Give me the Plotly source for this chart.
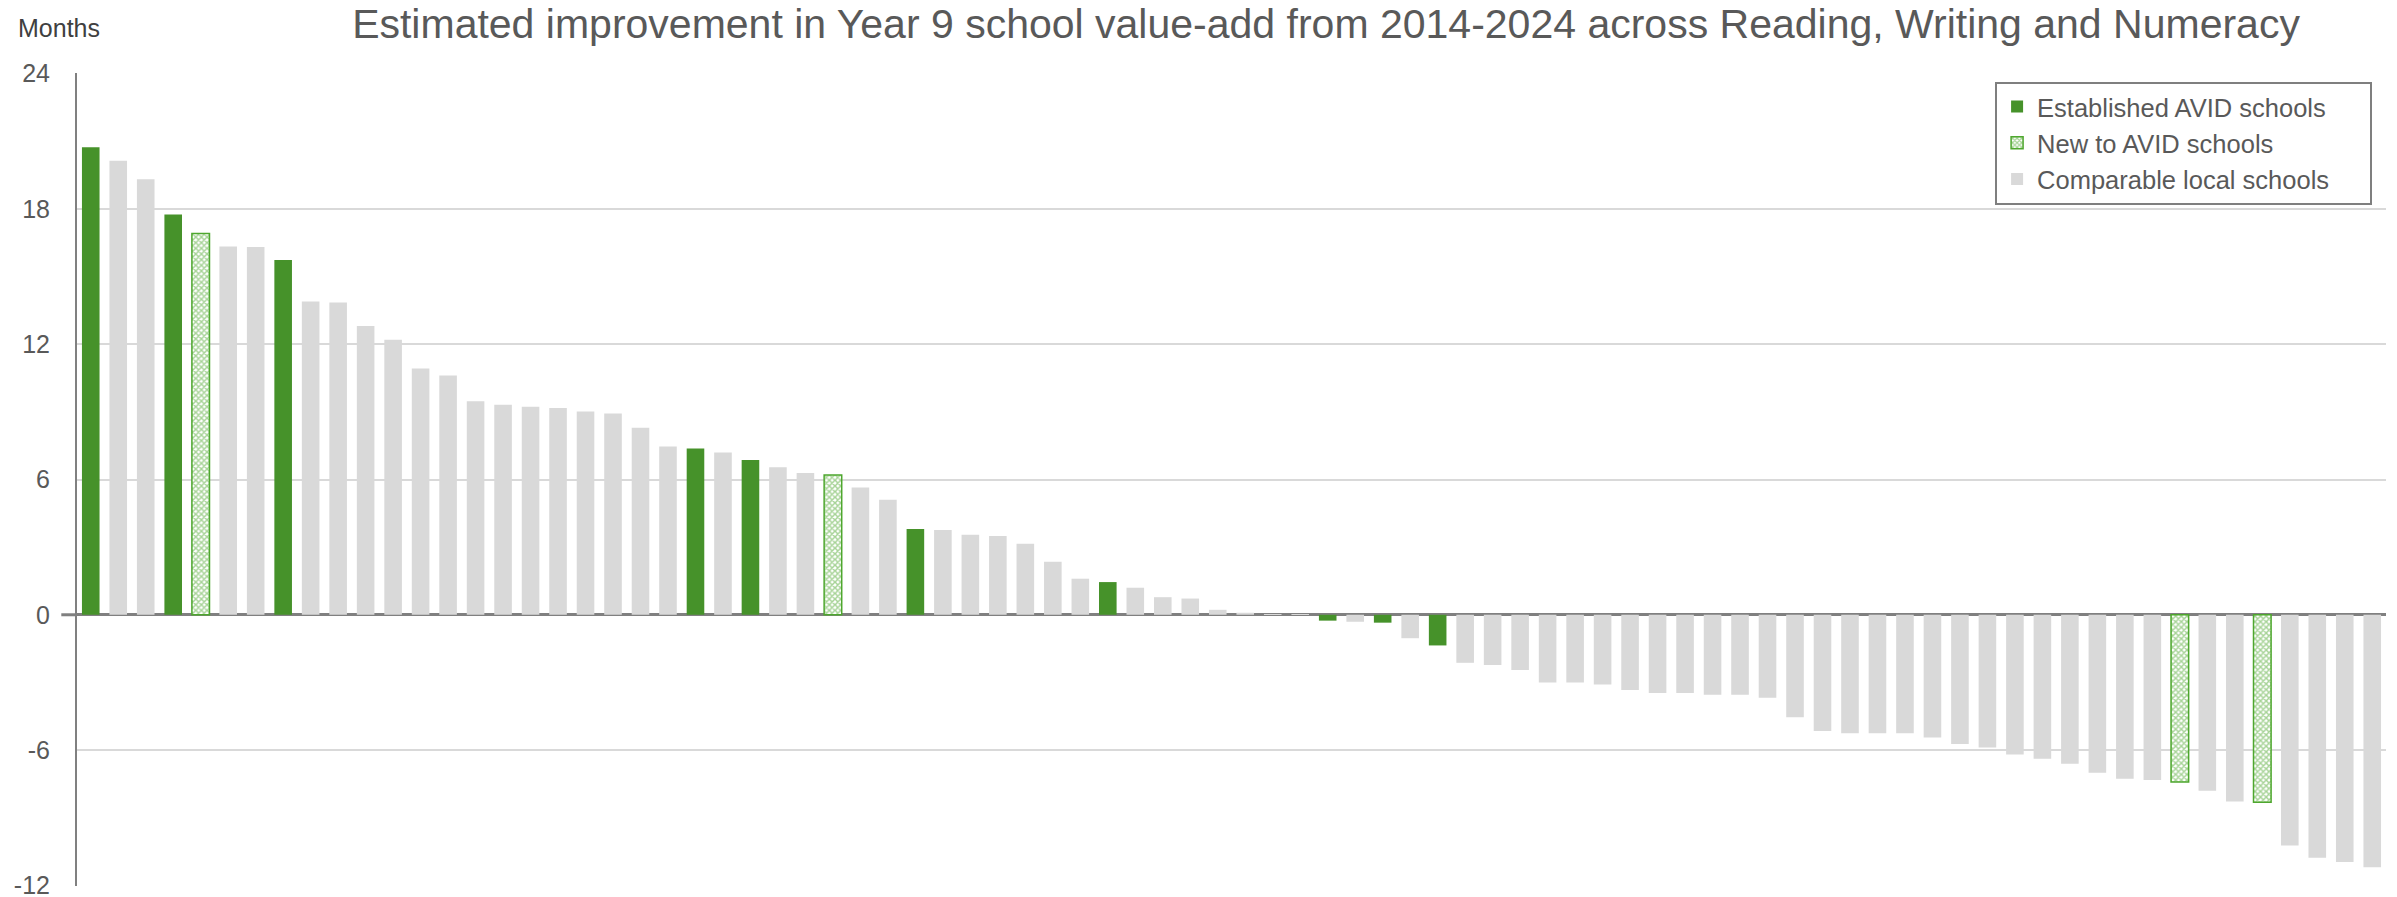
import plotly.graph_objects as go

# ---- data -------------------------------------------------------------
schools = [f"School {i}" for i in range(1, 85)]
values = [
    20.74, 20.14, 19.32, 17.75, 16.91, 16.33, 16.31, 15.74, 13.90, 13.85,
    12.81, 12.20, 10.92, 10.61, 9.47, 9.32, 9.23, 9.17, 9.02, 8.93,
    8.30, 7.46, 7.38, 7.20, 6.86, 6.54, 6.29, 6.20, 5.64, 5.10,
    3.80, 3.76, 3.55, 3.49, 3.15, 2.35, 1.60, 1.45, 1.20, 0.78,
    0.72, 0.22, 0.09, 0.01, -0.01, -0.26, -0.31, -0.35, -1.04, -1.36,
    -2.13, -2.23, -2.45, -3.00, -3.00, -3.09, -3.34, -3.47, -3.47, -3.55,
    -3.55, -3.68, -4.55, -5.16, -5.26, -5.26, -5.26, -5.44, -5.73, -5.89,
    -6.20, -6.39, -6.61, -7.01, -7.27, -7.33, -7.42, -7.80, -8.28, -8.31,
    -10.23, -10.78, -10.97, -11.20,
]
# E = established AVID, N = new to AVID, C = comparable local school
groups = list(
    "ECCENCCECC"
    "CCCCCCCCCC"
    "CCECECCNCC"
    "ECCCCCCECC"
    "CCCCCECECE"
    "CCCCCCCCCC"
    "CCCCCCCCCC"
    "CCCCCCNCCN"
    "CCCC"
)
series_names = {
    "E": "Established AVID schools",
    "N": "New to AVID schools",
    "C": "Comparable local schools",
}
title_text = ("Estimated improvement in Year 9 school value-add from 2014-2024 "
              "across Reading, Writing and Numeracy")
y_ticks = [-12, -6, 0, 6, 12, 18, 24]

GREEN = "#46922A"
NEWGREEN = "#4EA72E"
GREY = "#D9D9D9"
TEXT = "#595959"
FONT = "Liberation Sans"
PAD = "\u00a0" * 5  # right padding inside the legend box

W, H = 2397, 897


def pick(code):
    return [v if g == code else None for v, g in zip(values, groups)]


fig = go.Figure()
fig.add_trace(go.Bar(
    x=schools, y=pick("E"), name=series_names["E"], legendgroup="E",
    marker=dict(color=GREEN, line=dict(width=0)),
))
fig.add_trace(go.Bar(
    x=schools, y=pick("N"), name=series_names["N"], legendgroup="N",
    marker=dict(
        color="white",
        line=dict(color=NEWGREEN, width=1.5),
        pattern=dict(shape="x", fgcolor=NEWGREEN, bgcolor="white",
                     size=4, solidity=0.6, fillmode="overlay"),
    ),
))
fig.add_trace(go.Bar(
    x=schools, y=pick("C"), name=series_names["C"] + PAD, legendgroup="C",
    marker=dict(color=GREY, line=dict(width=0)),
))

fig.update_layout(
    width=W, height=H,
    margin=dict(l=76.5, r=11, t=72.7, b=11.3, autoexpand=False),
    paper_bgcolor="white", plot_bgcolor="white",
    barmode="overlay", bargap=0.36,
    font=dict(family=FONT, color=TEXT),
    title=dict(text=title_text, x=0.5532, xref="container", xanchor="center",
               y=1 - 24 / H, yref="container", yanchor="middle",
               font=dict(size=41, color=TEXT, family=FONT)),
    showlegend=True,
    legend=dict(
        x=0.8307, y=0.9895, xanchor="left", yanchor="top",
        bgcolor="white", bordercolor="#7F7F7F", borderwidth=2,
        font=dict(size=25.5, color=TEXT, family=FONT),
        traceorder="grouped", tracegroupgap=0,
        itemwidth=30,
    ),
    xaxis=dict(showticklabels=False, showgrid=False, showline=False,
               ticks="", zeroline=False, fixedrange=True),
    yaxis=dict(range=[-12.03, 24.03], tickvals=y_ticks,
               ticktext=[str(t) for t in y_ticks],
               showgrid=True, gridcolor="#D9D9D9", gridwidth=2,
               showline=True, linecolor="#808080", linewidth=2,
               zeroline=True, zerolinecolor="#808080", zerolinewidth=3,
               ticks="", ticklabelstandoff=20, ticklabeloverflow="allow",
               tickfont=dict(size=25, color=TEXT, family=FONT)),
    annotations=[dict(text="Months", xref="paper", yref="paper",
                      x=-0.0266, y=1.055, xanchor="left", yanchor="middle",
                      showarrow=False,
                      font=dict(size=25, color="#404040", family=FONT))],
    shapes=[dict(type="line", xref="paper", yref="y", x0=-0.0068, x1=0,
                 y0=0, y1=0, line=dict(color="#808080", width=3))],
)

fig.write_html("out.html",
               config={"displayModeBar": False},
               post_script="document.body.style.margin='0';"
                           "document.body.style.overflow='hidden';")
